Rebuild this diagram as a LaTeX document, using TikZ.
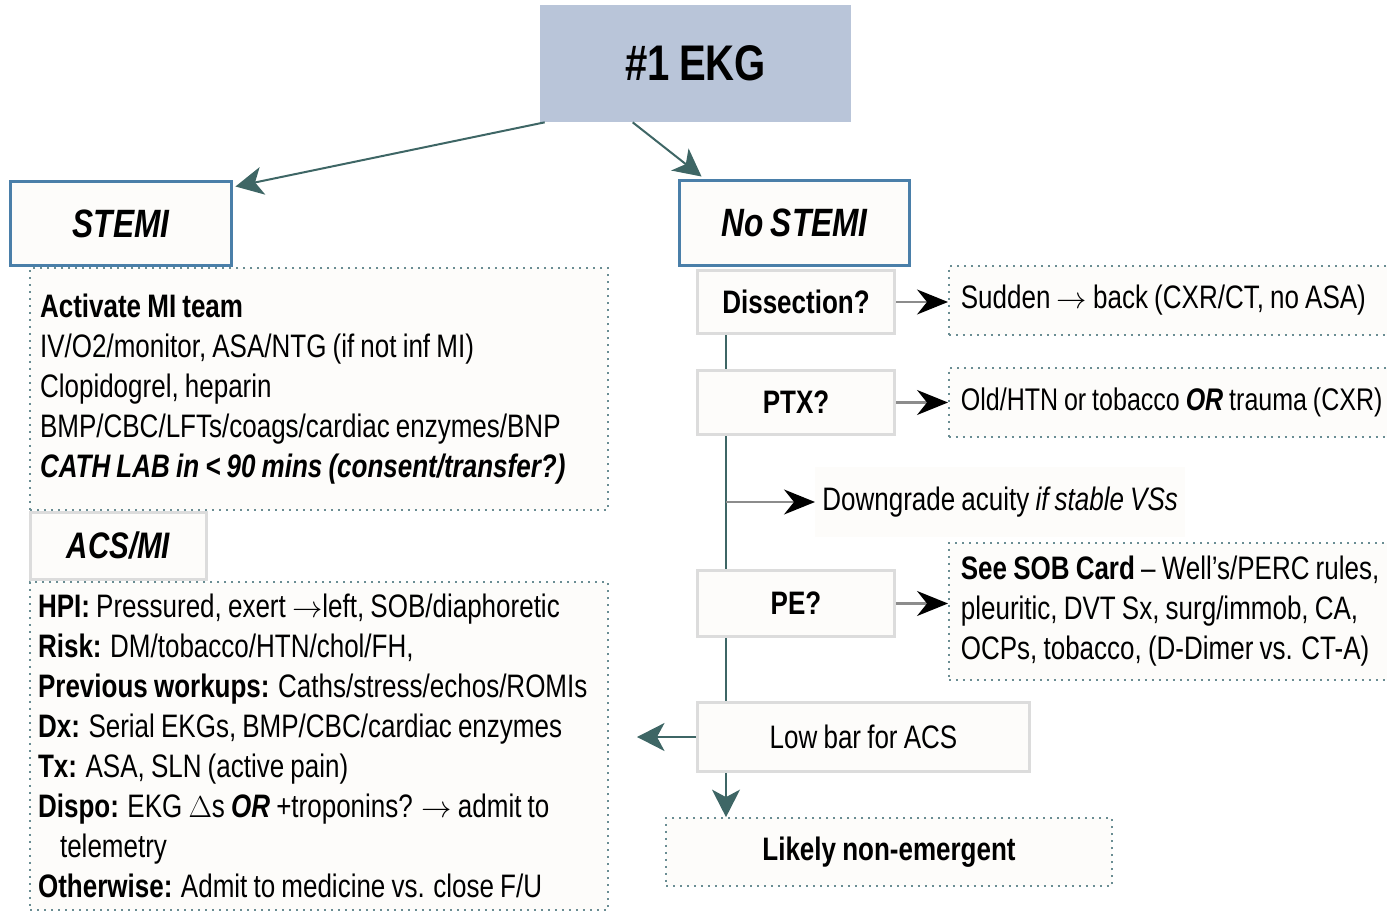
\documentclass[tikz,border=0pt]{standalone}
\usepackage{fontspec}
\setmainfont{Liberation Sans}[FakeStretch=0.8, WordSpace=0.85]
\usetikzlibrary{arrows.meta,calc}
\definecolor{ekgblue}{HTML}{B9C5D9}
\definecolor{stemiblue}{HTML}{4A7FA9}
\definecolor{boxgray}{HTML}{DCDCDC}
\definecolor{dotteal}{HTML}{6A8D93}
\definecolor{arrowteal}{HTML}{3E6665}
\definecolor{paper}{HTML}{FDFCFA}
\def\bodyfont{\fontsize{18.5}{22.8}\selectfont}
\def\arr{$\rightarrow$}
\tikzset{
  bluebox/.style={draw=stemiblue, line width=0.06cm, fill=paper, font=\fontsize{22.5}{27}\selectfont\bfseries\itshape},
  graybox/.style={draw=boxgray, line width=0.06cm, fill=paper, font=\bodyfont},
  dotbox/.style={draw=dotteal, line width=0.035cm, dash pattern=on 0.035cm off 0.105cm, fill=paper, font=\bodyfont, align=flush left},
  tealarrow/.style={draw=arrowteal, line width=0.04cm, -{Stealth[length=0.55cm, width=0.56cm, inset=0.15cm]}},
  blackarrow/.style={draw=black!45, line width=0.045cm, -{Stealth[length=0.62cm, width=0.5cm, inset=0.2cm, color=black]}},
  spineline/.style={draw=arrowteal, line width=0.03cm}
}

\begin{document}
\begin{tikzpicture}[x=0.02cm, y=-0.02cm]
		%%%%% START %%%%%
		\useasboundingbox (0,0) rectangle (1387,912);
		
		\node[fill=ekgblue, minimum width=6.22cm, minimum height=2.34cm, font=\fontsize{28.5}{32}\selectfont\bfseries] (ekg) at (695.5, 63.5) {\#1 EKG};
		
		\node[bluebox, minimum width=4.44cm, minimum height=1.7cm] (stemi) at (121, 223.5) {STEMI};
		\node[bluebox, minimum width=4.62cm, minimum height=1.72cm] (nostemi) at (794.5, 223) {No STEMI};
		
		\draw[tealarrow] ($(ekg.south west)+(5,0)$) -- ($(stemi.north east)+(2,7)$);
		\draw[tealarrow] ($(ekg.south west)+(93,0)$) -- ($(nostemi.north west)+(24,-2)$);
		
		%% STEMI side
		\node[dotbox, text width=11.16cm, inner xsep=0.2cm, minimum height=4.84cm] (stemitodo) at (319, 389) {%
			\textbf{Activate MI team}\\
			IV/O2/monitor, ASA/NTG (if not inf MI)\\
			Clopidogrel, heparin\\
			BMP/CBC/LFTs/coags/cardiac enzymes/BNP\\
			\textbf{\textit{CATH LAB in < 90 mins (consent/transfer?)}}};
		
		\node[graybox, minimum width=3.54cm, minimum height=1.36cm, font=\fontsize{21}{25}\selectfont\bfseries\itshape] (acs) at (118.5, 546) {ACS/MI};
		
		\node[dotbox, text width=11.24cm, inner xsep=0.16cm, minimum height=6.56cm] (acstodo) at (319, 746) {%
			\textbf{HPI:} Pressured, exert \arr left, SOB/diaphoretic\\
			\textbf{Risk:} DM/tobacco/HTN/chol/FH,\\
			\textbf{Previous workups:} Caths/stress/echos/ROMIs\\
			\textbf{Dx:} Serial EKGs, BMP/CBC/cardiac enzymes\\
			\textbf{Tx:} ASA, SLN (active pain)\\
			\textbf{Dispo:} EKG $\Delta$s \textbf{\textit{OR}} +troponins? \arr{} admit to\\
			\hspace*{0.44cm}telemetry\\
			\textbf{Otherwise:} Admit to medicine vs. close F/U};
		
		%% No STEMI side
		\coordinate (spine) at (726, 0);
		\node[graybox, minimum width=3.96cm, minimum height=1.28cm, font=\bodyfont\bfseries] (diss) at (796, 302) {Dissection?};
		\node[graybox, minimum width=3.96cm, minimum height=1.3cm, font=\bodyfont\bfseries] (ptx) at (796, 402.5) {PTX?};
		\node[graybox, minimum width=3.96cm, minimum height=1.34cm, font=\bodyfont\bfseries] (pe) at (796, 603.5) {PE?};
		\node[graybox, minimum width=6.66cm, minimum height=1.4cm] (lowbar) at (863.5, 737) {Low bar for ACS};
		
		\node[dotbox, anchor=west, text width=9.5cm, inner xsep=0.24cm, minimum height=1.38cm] (sudden) at (948, 300.5) {Sudden \arr{} back (CXR/CT, no ASA)};
		\node[dotbox, anchor=west, text width=9.5cm, inner xsep=0.24cm, minimum height=1.38cm, font=\fontsize{17.8}{22.8}\selectfont] (oldhtn) at (948, 402.5) {Old/HTN or tobacco \textbf{\textit{OR}} trauma (CXR)};
		\node[dotbox, anchor=west, text width=9.5cm, inner xsep=0.24cm, minimum height=2.74cm] (sob) at (948, 611.5) {%
			\textbf{See SOB Card} – Well’s/PERC rules,\\
			pleuritic, DVT Sx, surg/immob, CA,\\
			OCPs, tobacco, (D-Dimer vs. CT-A)};
		
		\node[fill=paper, anchor=west, inner xsep=0.14cm, minimum height=1.4cm, font=\bodyfont] (downgrade) at (815, 502) {Downgrade acuity \textit{if stable VSs}};
		\coordinate (dgfork) at (726, 502);
		
		\node[dotbox, minimum width=8.92cm, minimum height=1.36cm, font=\bodyfont\bfseries] (likely) at (889, 852) {Likely non-emergent};
		\coordinate (acsin) at (637, 737);
		
		\draw[spineline] (diss.south -| spine) -- (ptx.north -| spine);
		\draw[spineline] (ptx.south -| spine) -- (pe.north -| spine);
		\draw[spineline] (pe.south -| spine) -- (lowbar.north -| spine);
		
		\draw[blackarrow] (diss.east) -- (diss.east -| sudden.west);
		\draw[blackarrow] (ptx.east) -- (ptx.east -| oldhtn.west);
		\draw[blackarrow] (pe.east) -- (pe.east -| sob.west);
		\draw[blackarrow] (dgfork) -- (downgrade.west);
		
		\draw[tealarrow] (lowbar.west) -- (acsin);
		\draw[tealarrow] (lowbar.south -| spine) -- (likely.north -| spine);
		
		%%%%% END %%%%%
\end{tikzpicture}
\end{document}
